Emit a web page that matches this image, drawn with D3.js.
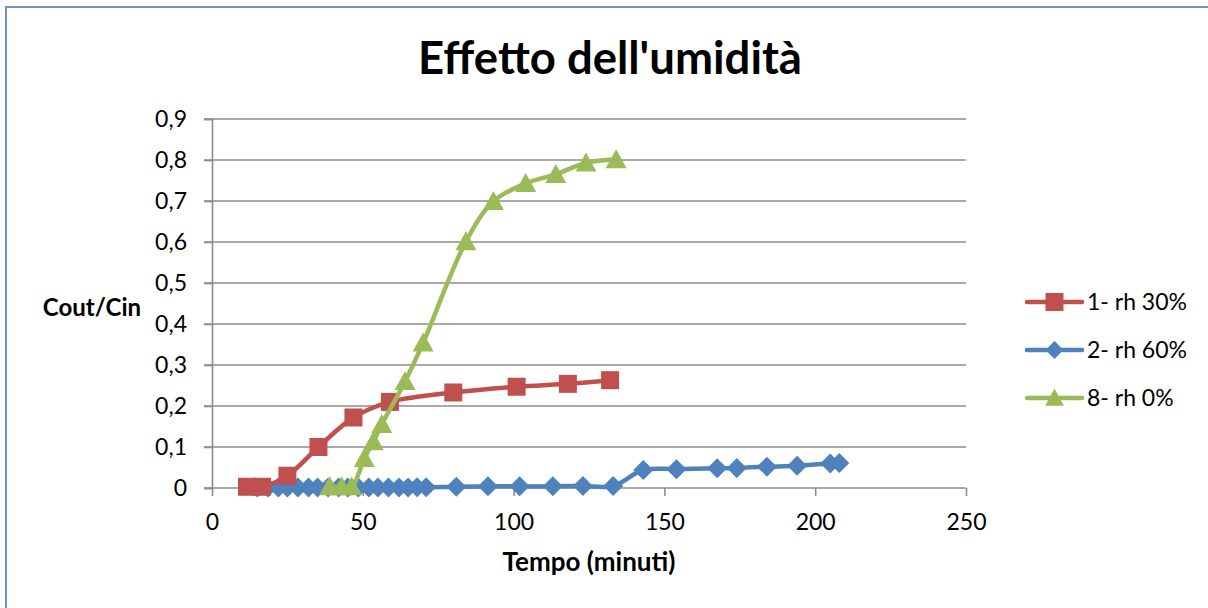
<!DOCTYPE html>
<html>
<head>
<meta charset="utf-8">
<script src="https://cdn.jsdelivr.net/npm/d3@7"></script>
<style>
  html, body { margin: 0; padding: 0; background: #fff; }
  svg { display: block; }
</style>
</head>
<body>
<svg id="chart" width="1208" height="608"></svg>
<script>
// ---- data ----
const seriesNames = ["1- rh 30%", "2- rh 60%", "8- rh 0%"];
const seriesColors = ["#C0504D", "#4F81BD", "#9BBB59"];
const seriesMarkers = ["square", "diamond", "triangle"];

const rh30X = [11.6, 16.6, 25, 35.3, 46.9, 59, 80, 101, 118, 132];
const rh30Y = [0.003, 0.003, 0.030, 0.100, 0.172, 0.210, 0.233, 0.247, 0.254, 0.263];

const rh60X = [15, 18.5, 22, 25, 28.5, 32, 35, 38.5, 42, 45, 48.5, 52, 55, 58.5, 62, 65, 68, 71,
               81, 91.5, 102, 113, 123, 133, 143, 154, 167.5, 174, 184, 194, 205, 208];
const rh60Y = [0.001, 0.001, 0.001, 0.001, 0.001, 0.001, 0.001, 0.001, 0.001, 0.001, 0.001, 0.001,
               0.001, 0.001, 0.001, 0.001, 0.002, 0.002,
               0.003, 0.004, 0.004, 0.004, 0.005, 0.005, 0.044, 0.046, 0.048, 0.049, 0.052, 0.054, 0.060, 0.061];

const rh0X = [39, 43, 46.3, 50.5, 53.5, 56.3, 64, 70, 84.2, 93.3, 104, 114, 124, 134];
const rh0Y = [0.003, 0.003, 0.003, 0.072, 0.113, 0.155, 0.260, 0.354, 0.601, 0.699, 0.743, 0.765, 0.793, 0.801];

const xTicks = [0, 50, 100, 150, 200, 250];
const yTicks = [0, 0.1, 0.2, 0.3, 0.4, 0.5, 0.6, 0.7, 0.8, 0.9];

const titleText = "Effetto dell'umidità";
const xTitle = "Tempo (minuti)";
const yTitle = "Cout/Cin";

// ---- layout ----
const svg = d3.select("#chart");
const font = "Lato, 'Open Sans', sans-serif";
const gridColor = "#8c8c8c";

const x = d3.scaleLinear().domain([0, 250]).range([212, 966]);
const y = d3.scaleLinear().domain([0, 0.9]).range([488, 119]);

// chart border (left and top visible)
svg.append("rect")
  .attr("x", 6).attr("y", 7).attr("width", 1260).attr("height", 660)
  .attr("fill", "none").attr("stroke", "#6a93c9").attr("stroke-width", 2);

// title
svg.append("text")
  .attr("x", 610).attr("y", 74)
  .attr("text-anchor", "middle")
  .attr("font-family", font).attr("font-weight", "bold").attr("font-size", 45.5)
  .attr("fill", "#000")
  .text(titleText);

// gridlines
svg.append("g")
  .selectAll("line").data(yTicks.slice(1)).join("line")
  .attr("x1", 204).attr("x2", x(250))
  .attr("y1", d => y(d)).attr("y2", d => y(d))
  .attr("stroke", gridColor).attr("stroke-width", 1.6);

const fmt = d => String(d).replace(".", ",");

// y axis
const yAxis = svg.append("g").attr("transform", `translate(${x(0)},0)`)
  .call(d3.axisLeft(y).tickValues(yTicks).tickFormat(fmt).tickSize(8).tickPadding(17));
yAxis.select(".domain").attr("stroke", gridColor).attr("stroke-width", 1.6);
yAxis.selectAll(".tick line").attr("stroke", gridColor).attr("stroke-width", 1.6);
yAxis.selectAll(".tick text").attr("font-family", font).attr("font-size", 23).attr("fill", "#000");

// x axis
const xAxis = svg.append("g").attr("transform", `translate(0,${y(0)})`)
  .call(d3.axisBottom(x).tickValues(xTicks).tickFormat(fmt).tickSize(8).tickPadding(18));
xAxis.select(".domain").attr("stroke", gridColor).attr("stroke-width", 1.6)
  .attr("d", `M${x(0) - 8},0H${x(250)}`);
xAxis.selectAll(".tick line").attr("stroke", gridColor).attr("stroke-width", 1.6);
xAxis.selectAll(".tick text").attr("font-family", font).attr("font-size", 23).attr("fill", "#000");

// axis titles
svg.append("text")
  .attr("x", 589).attr("y", 571).attr("text-anchor", "middle")
  .attr("font-family", font).attr("font-weight", "bold").attr("font-size", 26)
  .text(xTitle);
svg.append("text")
  .attr("x", 92).attr("y", 316).attr("text-anchor", "middle")
  .attr("font-family", font).attr("font-weight", "bold").attr("font-size", 24)
  .text(yTitle);

// series
const series = [
  { xs: rh30X, ys: rh30Y },
  { xs: rh60X, ys: rh60Y },
  { xs: rh0X, ys: rh0Y }
].map((s, i) => ({
  name: seriesNames[i], color: seriesColors[i], marker: seriesMarkers[i],
  pts: s.xs.map((v, j) => [v, s.ys[j]])
}));

const line = d3.line().x(d => x(d[0])).y(d => y(d[1])).curve(d3.curveCatmullRom.alpha(0.5));

function markerPath(type, r) {
  if (type === "square") return `M${-r},${-r}H${r}V${r}H${-r}Z`;
  if (type === "diamond") return `M0,${-r}L${r},0L0,${r}L${-r},0Z`;
  // triangle
  const h = r * 1.9;
  return `M0,${-h * 0.55}L${r * 1.05},${h * 0.45}L${-r * 1.05},${h * 0.45}Z`;
}
const markerSize = { square: 9, diamond: 10, triangle: 10 };

const order = [1, 0, 2];
order.forEach(i => {
  const s = series[i];
  const g = svg.append("g");
  g.append("path").datum(s.pts)
    .attr("d", line).attr("fill", "none")
    .attr("stroke", s.color).attr("stroke-width", 4.5)
    .attr("stroke-linejoin", "round").attr("stroke-linecap", "round");
  g.selectAll("path.m").data(s.pts).join("path").attr("class", "m")
    .attr("transform", d => `translate(${x(d[0])},${y(d[1])})`)
    .attr("d", markerPath(s.marker, markerSize[s.marker]))
    .attr("fill", s.color);
});

// legend
const legY = [302, 350, 398];
series.forEach((s, i) => {
  const g = svg.append("g").attr("transform", `translate(0,${legY[i]})`);
  g.append("line").attr("x1", 1027).attr("x2", 1082).attr("y1", 0).attr("y2", 0)
    .attr("stroke", s.color).attr("stroke-width", 4.5).attr("stroke-linecap", "round");
  g.append("path").attr("transform", "translate(1054.5,0)")
    .attr("d", markerPath(s.marker, 9))
    .attr("fill", s.color);
  g.append("text").attr("x", 1087).attr("y", 8)
    .attr("font-family", font).attr("font-size", 23).attr("fill", "#000")
    .text(s.name);
});
</script>
</body>
</html>
